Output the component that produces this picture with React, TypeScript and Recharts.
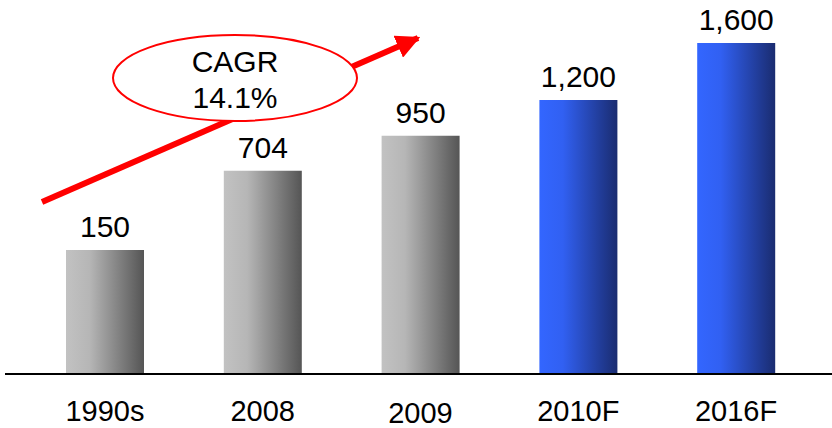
import { BarChart, Bar, XAxis, YAxis, Cell, LabelList } from "recharts";

const categories = ["1990s", "2008", "2009", "2010F", "2016F"];
const values = [150, 704, 950, 1200, 1600];
const forecast = [false, false, false, true, true];

// axis floor used by the original slide (bars don't start at zero)
const FLOOR = -720;

const data = categories.map((name, i) => ({ name, value: values[i], forecast: forecast[i] }));

const FONT = "Arial, 'Liberation Sans', sans-serif";

const Tick = ({ x, y, payload }: any) => (
  <text
    x={x}
    y={y}
    dy={payload.value === "2009" ? 41 : 39}
    textAnchor="middle"
    fontSize={29}
    fontFamily={FONT}
    fill="#000"
  >
    {payload.value}
  </text>
);

export default function App() {
  return (
    <div style={{ position: "absolute", left: 0, top: 0, width: 832, height: 428, background: "#fff" }}>
      <BarChart width={832} height={428} data={data} margin={{ top: 43, right: 0, bottom: 0, left: 5 }}>
        <defs>
          <linearGradient id="grayGrad" x1="0" y1="0" x2="1" y2="0">
            <stop offset="0%" stopColor="#c2c2c2" />
            <stop offset="30%" stopColor="#b6b6b6" />
            <stop offset="100%" stopColor="#555555" />
          </linearGradient>
          <linearGradient id="blueGrad" x1="0" y1="0" x2="1" y2="0">
            <stop offset="0%" stopColor="#3366ff" />
            <stop offset="30%" stopColor="#3160f2" />
            <stop offset="100%" stopColor="#1a2c70" />
          </linearGradient>
        </defs>
        <XAxis
          dataKey="name"
          height={54}
          axisLine={{ stroke: "#000", strokeWidth: 2 }}
          tickLine={false}
          tick={<Tick />}
          padding={{ left: 21, right: 17 }}
        />
        <YAxis hide domain={[FLOOR, 1600]} allowDataOverflow />
        <Bar dataKey={(d: any) => [FLOOR, d.value]} barSize={78} isAnimationActive={false}>
          {data.map((d) => (
            <Cell key={d.name} fill={d.forecast ? "url(#blueGrad)" : "url(#grayGrad)"} />
          ))}
          <LabelList
            dataKey="value"
            position="top"
            offset={13}
            formatter={(v: any) => Number(v).toLocaleString("en-US")}
            style={{ fontSize: 30, fontFamily: FONT, fill: "#000" }}
          />
        </Bar>
      </BarChart>
      <svg width={832} height={428} style={{ position: "absolute", left: 0, top: 0, pointerEvents: "none" }}>
        <defs>
          <marker id="arrowHead" viewBox="0 0 10 10" refX="9" refY="5" markerWidth="4" markerHeight="4" orient="auto">
            <path d="M0,0 L10,5 L0,10 z" fill="#ff0000" />
          </marker>
        </defs>
        <line x1={42} y1={202} x2={418} y2={38} stroke="#ff0000" strokeWidth={6} markerEnd="url(#arrowHead)" />
        <ellipse cx={235} cy={78} rx={122} ry={43} fill="#fff" stroke="#ff0000" strokeWidth={2} />
        <text x={235} y={72} textAnchor="middle" fontSize={30} fontFamily={FONT} fill="#000">
          CAGR
        </text>
        <text x={235} y={108} textAnchor="middle" fontSize={30} fontFamily={FONT} fill="#000">
          14.1%
        </text>
      </svg>
    </div>
  );
}
